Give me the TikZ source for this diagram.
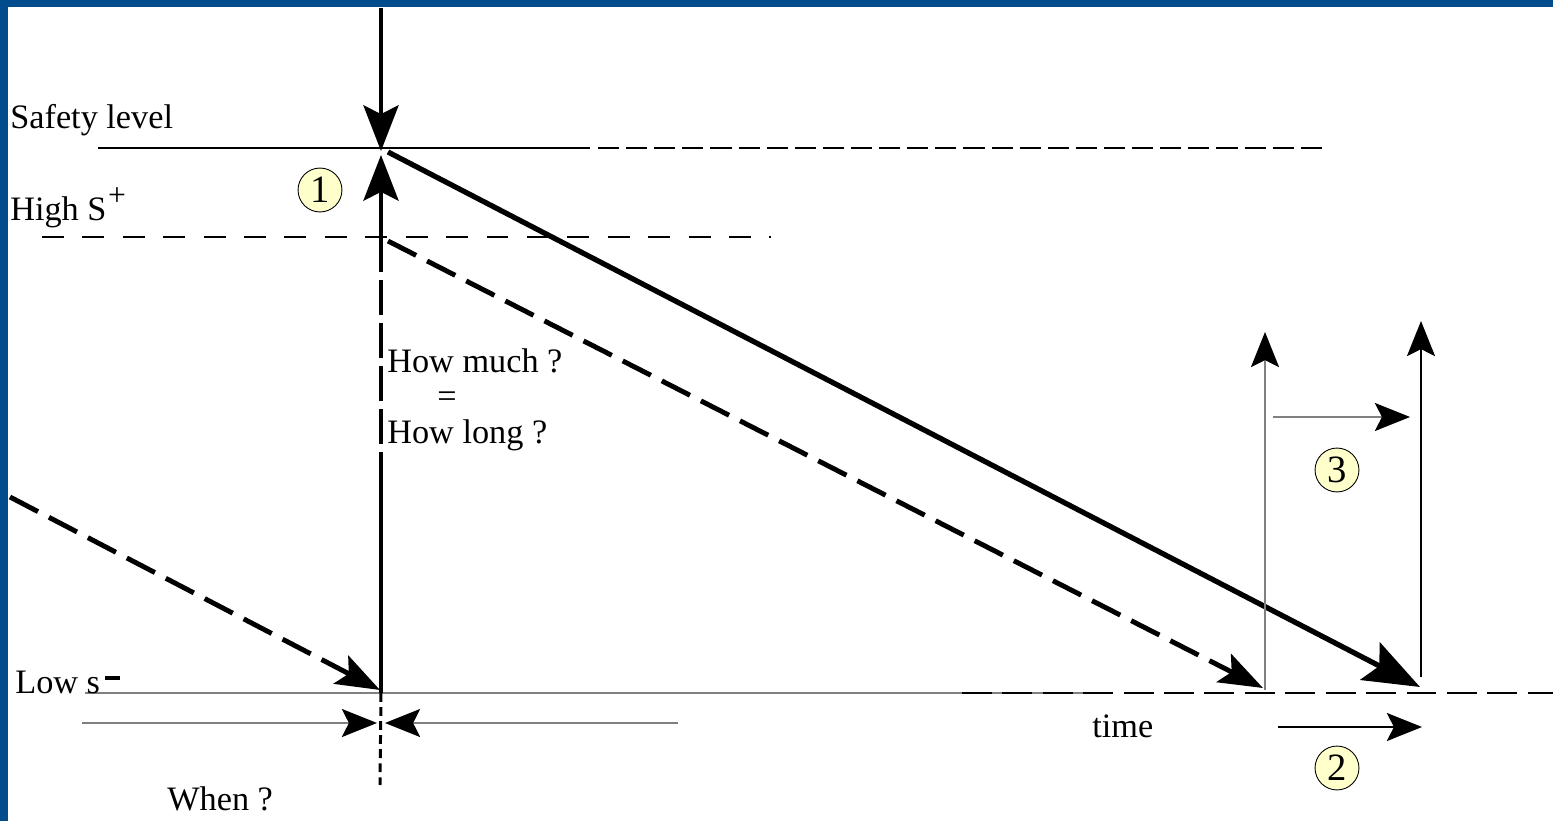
\documentclass[tikz,border=0pt]{standalone}
\usepackage{fontspec}
\setmainfont{Liberation Serif}
\usetikzlibrary{arrows.meta}
\definecolor{FrameBlue}{RGB}{0,76,140}
\definecolor{TagYellow}{RGB}{255,255,204}
\definecolor{LineGray}{RGB}{128,128,128}

\begin{document}
\begin{tikzpicture}[x=0.02cm, y=-0.02cm,
    lbl/.style={inner sep=0pt, font=\fontsize{19.5}{23}\selectfont},
    tag/.style={circle, draw=black, fill=TagYellow, line width=0.5pt,
                minimum size=25pt, inner sep=0pt,
                font=\fontsize{22}{24}\selectfont},
    fine/.style={line width=0.8pt, LineGray},
    finearr/.style={fine, -{Stealth[length=20pt, width=16pt, inset=4pt, color=black]}},
    vert/.style={line width=2.3pt},
    vertarr/.style={vert, -{Stealth[length=26pt, width=20pt, inset=5pt]}},
    level/.style={line width=1.7pt}
  ]
  \useasboundingbox (0,0) rectangle (1553,821);
  % Frame
  \fill[FrameBlue] (0,0) rectangle (1553,7);
  \fill[FrameBlue] (0,0) rectangle (8,821);

  % Levels
  \draw[fine, black] (98,148) -- (590,148);
  \draw[level, dash pattern=on 12pt off 4pt] (598,148) -- (1328,148);
  \draw[level, dash pattern=on 12.5pt off 10.5pt] (42,237) -- (771,237);
  \draw[fine, line width=1pt] (85,693) -- (1112,693);
  \draw[level, dash pattern=on 17pt off 6pt] (962,693) -- (1553,693);

  % Labels
  \node[lbl, anchor=base west] (safety) at (10,129) {Safety level};
  \node[lbl, anchor=base west] (highS) at (10,220)
    {High S\kern1pt\raisebox{8pt}{\fontsize{18}{18}\selectfont +}};
  \node[lbl, anchor=base west] (lowS) at (15,693)
    {Low s\kern3pt\raisebox{7.5pt}{\rule{8.5pt}{2.2pt}}};
  \node[lbl, anchor=base west] (much) at (387,372) {How much ?};
  \node[lbl] (eq) at (447,400) {=};
  \node[lbl, anchor=base west] (long) at (387,443) {How long ?};
  \node[lbl, anchor=base west] (when) at (167,810) {When ?};
  \node[lbl, anchor=base west] (time) at (1092,737) {time};
  \foreach \n/\x/\y in {1/320/190, 2/1337/768, 3/1337/470}
    \node[tag] (tag\n) at (\x,\y) {\n};

  % Vertical axis at the decision point
  \coordinate (top) at (381,8);
  \coordinate (safeA) at (381,151);
  \coordinate (safeB) at (381,155);
  \coordinate (high) at (381,237);
  \coordinate (mid) at (381,455);
  \coordinate (low) at (381,693);
  \coordinate (bot) at (380,785);
  \draw[vertarr] (top) -- (safeA);
  \draw[vertarr] (high) -- (safeB);
  \draw[vert, dash pattern=on 20pt off 4.5pt] (high) -- (mid);
  \draw[vert] (mid) -- (low);
  \draw[level, dash pattern=on 5pt off 3pt] (low) -- (bot);

  % Consumption slopes
  \coordinate (s0) at (10,497);   \coordinate (e0) at (380,690);
  \coordinate (s1) at (388,152);  \coordinate (e1) at (1420,687);
  \coordinate (s2) at (388,241);  \coordinate (e2) at (1263,688);
  \draw[line width=3pt, -{Stealth[length=32pt, width=24pt, inset=6pt]}]
    (s1) -- (e1);
  \draw[line width=2.8pt, dash pattern=on 18pt off 7pt,
        -{Stealth[length=25pt, width=18pt, inset=5pt]}] (s2) -- (e2);
  \draw[line width=2.8pt, dash pattern=on 18pt off 7pt,
        -{Stealth[length=25pt, width=18pt, inset=5pt]}] (s0) -- (e0);

  % When?
  \coordinate (wl) at (82,723);   \coordinate (wlt) at (377,723);
  \coordinate (wr) at (678,723);  \coordinate (wrt) at (385,723);
  \draw[finearr] (wl) -- (wlt);
  \draw[finearr] (wr) -- (wrt);

  % Shifts on the right
  \coordinate (ua) at (1265,690); \coordinate (uat) at (1265,332);
  \coordinate (ub) at (1421,677); \coordinate (ubt) at (1421,321);
  \draw[finearr] (ua) -- (uat);
  \draw[finearr, black] (ub) -- (ubt);
  \coordinate (h3) at (1273,417); \coordinate (h3t) at (1410,417);
  \coordinate (h2) at (1278,727); \coordinate (h2t) at (1422,727);
  \draw[finearr] (h3) -- (h3t);
  \draw[finearr, black] (h2) -- (h2t);
\end{tikzpicture}
\end{document}
